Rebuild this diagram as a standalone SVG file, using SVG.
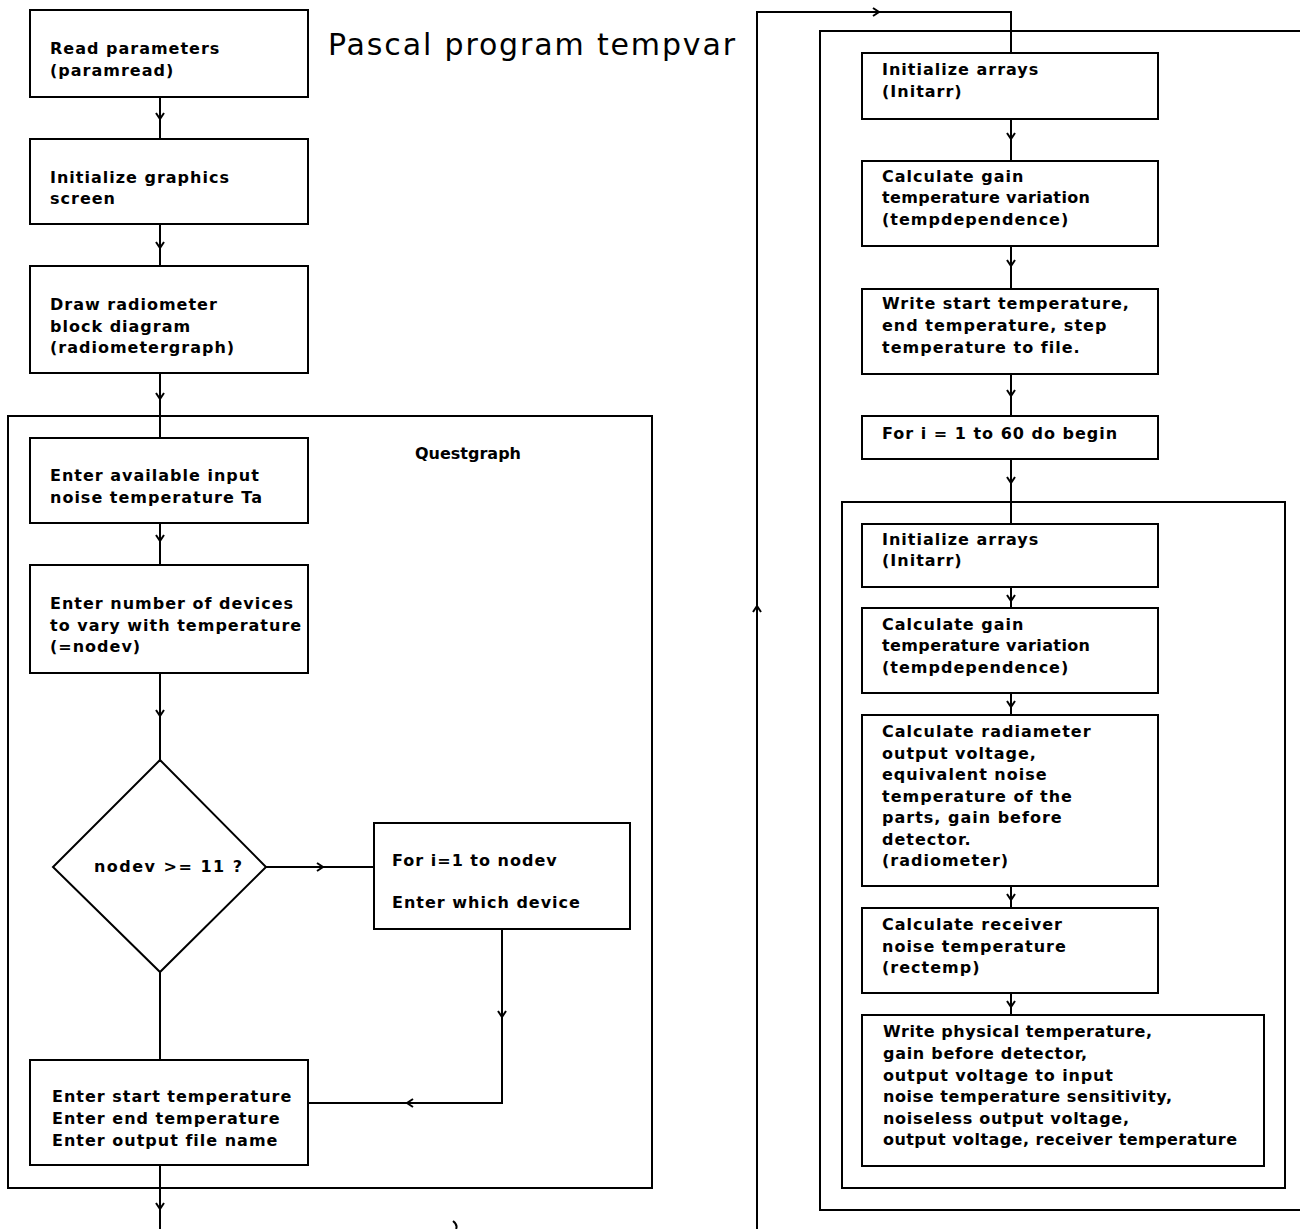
<svg xmlns="http://www.w3.org/2000/svg" width="1300" height="1229" viewBox="0 0 1300 1229">
<style>
.box{fill:#fff;stroke:#000;stroke-width:2}
.frame{fill:none;stroke:#000;stroke-width:2}
.ln{fill:none;stroke:#000;stroke-width:2}
.t{font-family:"DejaVu Sans",sans-serif;font-weight:bold;font-size:16px;letter-spacing:1px;fill:#000}
.title{font-family:"DejaVu Sans",sans-serif;font-size:30px;fill:#000}
</style>
<defs>
<path id="ah" d="M-4,-5 L0,1 L4,-5" fill="none" stroke="#000" stroke-width="2"/>
</defs>
<rect width="1300" height="1229" fill="#fff"/>
<text class="title" x="328" y="55" textLength="407" lengthAdjust="spacing">Pascal program tempvar</text>
<g id="frames">
<rect id="questgraph" class="frame" x="8" y="416" width="644" height="772"/>
<text class="t" x="415" y="459" style="letter-spacing:0">Questgraph</text>
<rect id="outerloop" class="frame" x="820" y="31" width="500" height="1179"/>
<rect id="innerloop" class="frame" x="842" y="502" width="443" height="686"/>
</g>
<g id="connectors">
<path class="ln" d="M160,97 V139"/>
<path class="ln" d="M160,224 V266"/>
<path class="ln" d="M160,373 V438"/>
<path class="ln" d="M160,523 V565"/>
<path class="ln" d="M160,673 V760"/>
<path class="ln" d="M266,867 H374"/>
<path class="ln" d="M502,929 V1103 H308"/>
<path class="ln" d="M160,972 V1060"/>
<path class="ln" d="M160,1165 V1229"/>
<path class="ln" d="M453,1221 Q458,1225 456,1229" stroke-width="1.5"/>
<path class="ln" d="M757,1229 V12 H1011 V53"/>
<path class="ln" d="M1011,119 V161"/>
<path class="ln" d="M1011,246 V289"/>
<path class="ln" d="M1011,374 V416"/>
<path class="ln" d="M1011,459 V524"/>
<path class="ln" d="M1011,587 V608"/>
<path class="ln" d="M1011,693 V715"/>
<path class="ln" d="M1011,886 V908"/>
<path class="ln" d="M1011,993 V1015"/>
<use href="#ah" x="160" y="118"/>
<use href="#ah" x="160" y="247"/>
<use href="#ah" x="160" y="398"/>
<use href="#ah" x="160" y="540"/>
<use href="#ah" x="160" y="715"/>
<use href="#ah" transform="translate(322,867) rotate(-90)"/>
<use href="#ah" x="502" y="1016"/>
<use href="#ah" transform="translate(408,1103) rotate(90)"/>
<use href="#ah" x="160" y="1208"/>
<use href="#ah" transform="translate(757,607) rotate(180)"/>
<use href="#ah" transform="translate(878,12) rotate(-90)"/>
<use href="#ah" x="1011" y="138"/>
<use href="#ah" x="1011" y="265"/>
<use href="#ah" x="1011" y="395"/>
<use href="#ah" x="1011" y="482"/>
<use href="#ah" x="1011" y="600"/>
<use href="#ah" x="1011" y="706"/>
<use href="#ah" x="1011" y="899"/>
<use href="#ah" x="1011" y="1006"/>
</g>
<g id="n1"><rect class="box" x="30" y="10" width="278" height="87"/>
<text class="t" x="50" y="54">Read parameters</text><text class="t" x="50" y="76">(paramread)</text></g>
<g id="n2"><rect class="box" x="30" y="139" width="278" height="85"/>
<text class="t" x="50" y="183">Initialize graphics</text><text class="t" x="50" y="204">screen</text></g>
<g id="n3"><rect class="box" x="30" y="266" width="278" height="107"/>
<text class="t" x="50" y="310">Draw radiometer</text><text class="t" x="50" y="332">block diagram</text><text class="t" x="50" y="353">(radiometergraph)</text></g>
<g id="n4"><rect class="box" x="30" y="438" width="278" height="85"/>
<text class="t" x="50" y="481">Enter available input</text><text class="t" x="50" y="503">noise temperature Ta</text></g>
<g id="n5"><rect class="box" x="30" y="565" width="278" height="108"/>
<text class="t" x="50" y="609">Enter number of devices</text><text class="t" x="50" y="631">to vary with temperature</text><text class="t" x="50" y="652">(=nodev)</text></g>
<g id="n6"><path class="box" d="M160,760 L266,867 L160,972 L53,867 Z"/>
<text class="t" x="94" y="872" textLength="149" lengthAdjust="spacing">nodev &gt;= 11 ?</text></g>
<g id="n7"><rect class="box" x="374" y="823" width="256" height="106"/>
<text class="t" x="392" y="866">For i=1 to nodev</text><text class="t" x="392" y="908">Enter which device</text></g>
<g id="n8"><rect class="box" x="30" y="1060" width="278" height="105"/>
<text class="t" x="52" y="1102">Enter start temperature</text><text class="t" x="52" y="1124">Enter end temperature</text><text class="t" x="52" y="1146">Enter output file name</text></g>
<g id="r1"><rect class="box" x="862" y="53" width="296" height="66"/>
<text class="t" x="882" y="75">Initialize arrays</text><text class="t" x="882" y="97">(Initarr)</text></g>
<g id="r2"><rect class="box" x="862" y="161" width="296" height="85"/>
<text class="t" x="882" y="182">Calculate gain</text><text class="t" x="882" y="203" textLength="209" lengthAdjust="spacing">temperature variation</text><text class="t" x="882" y="225">(tempdependence)</text></g>
<g id="r3"><rect class="box" x="862" y="289" width="296" height="85"/>
<text class="t" x="882" y="309">Write start temperature,</text><text class="t" x="882" y="331">end temperature, step</text><text class="t" x="882" y="353">temperature to file.</text></g>
<g id="r4"><rect class="box" x="862" y="416" width="296" height="43"/>
<text class="t" x="882" y="439">For i = 1 to 60 do begin</text></g>
<g id="r5"><rect class="box" x="862" y="524" width="296" height="63"/>
<text class="t" x="882" y="545">Initialize arrays</text><text class="t" x="882" y="566">(Initarr)</text></g>
<g id="r6"><rect class="box" x="862" y="608" width="296" height="85"/>
<text class="t" x="882" y="630">Calculate gain</text><text class="t" x="882" y="651" textLength="209" lengthAdjust="spacing">temperature variation</text><text class="t" x="882" y="673">(tempdependence)</text></g>
<g id="r7"><rect class="box" x="862" y="715" width="296" height="171"/>
<text class="t" x="882" y="737">Calculate radiameter</text><text class="t" x="882" y="759">output voltage,</text><text class="t" x="882" y="780">equivalent noise</text><text class="t" x="882" y="802">temperature of the</text><text class="t" x="882" y="823">parts, gain before</text><text class="t" x="882" y="845">detector.</text><text class="t" x="882" y="866">(radiometer)</text></g>
<g id="r8"><rect class="box" x="862" y="908" width="296" height="85"/>
<text class="t" x="882" y="930">Calculate receiver</text><text class="t" x="882" y="952">noise temperature</text><text class="t" x="882" y="973">(rectemp)</text></g>
<g id="r9"><rect class="box" x="862" y="1015" width="402" height="151"/>
<text class="t" x="883" y="1037" textLength="270" lengthAdjust="spacing">Write physical temperature,</text><text class="t" x="883" y="1059" textLength="205" lengthAdjust="spacing">gain before detector,</text><text class="t" x="883" y="1081" textLength="231" lengthAdjust="spacing">output voltage to input</text><text class="t" x="883" y="1102" textLength="290" lengthAdjust="spacing">noise temperature sensitivity,</text><text class="t" x="883" y="1124" textLength="247" lengthAdjust="spacing">noiseless output voltage,</text><text class="t" x="883" y="1145" textLength="355" lengthAdjust="spacing">output voltage, receiver temperature</text></g>
</svg>
